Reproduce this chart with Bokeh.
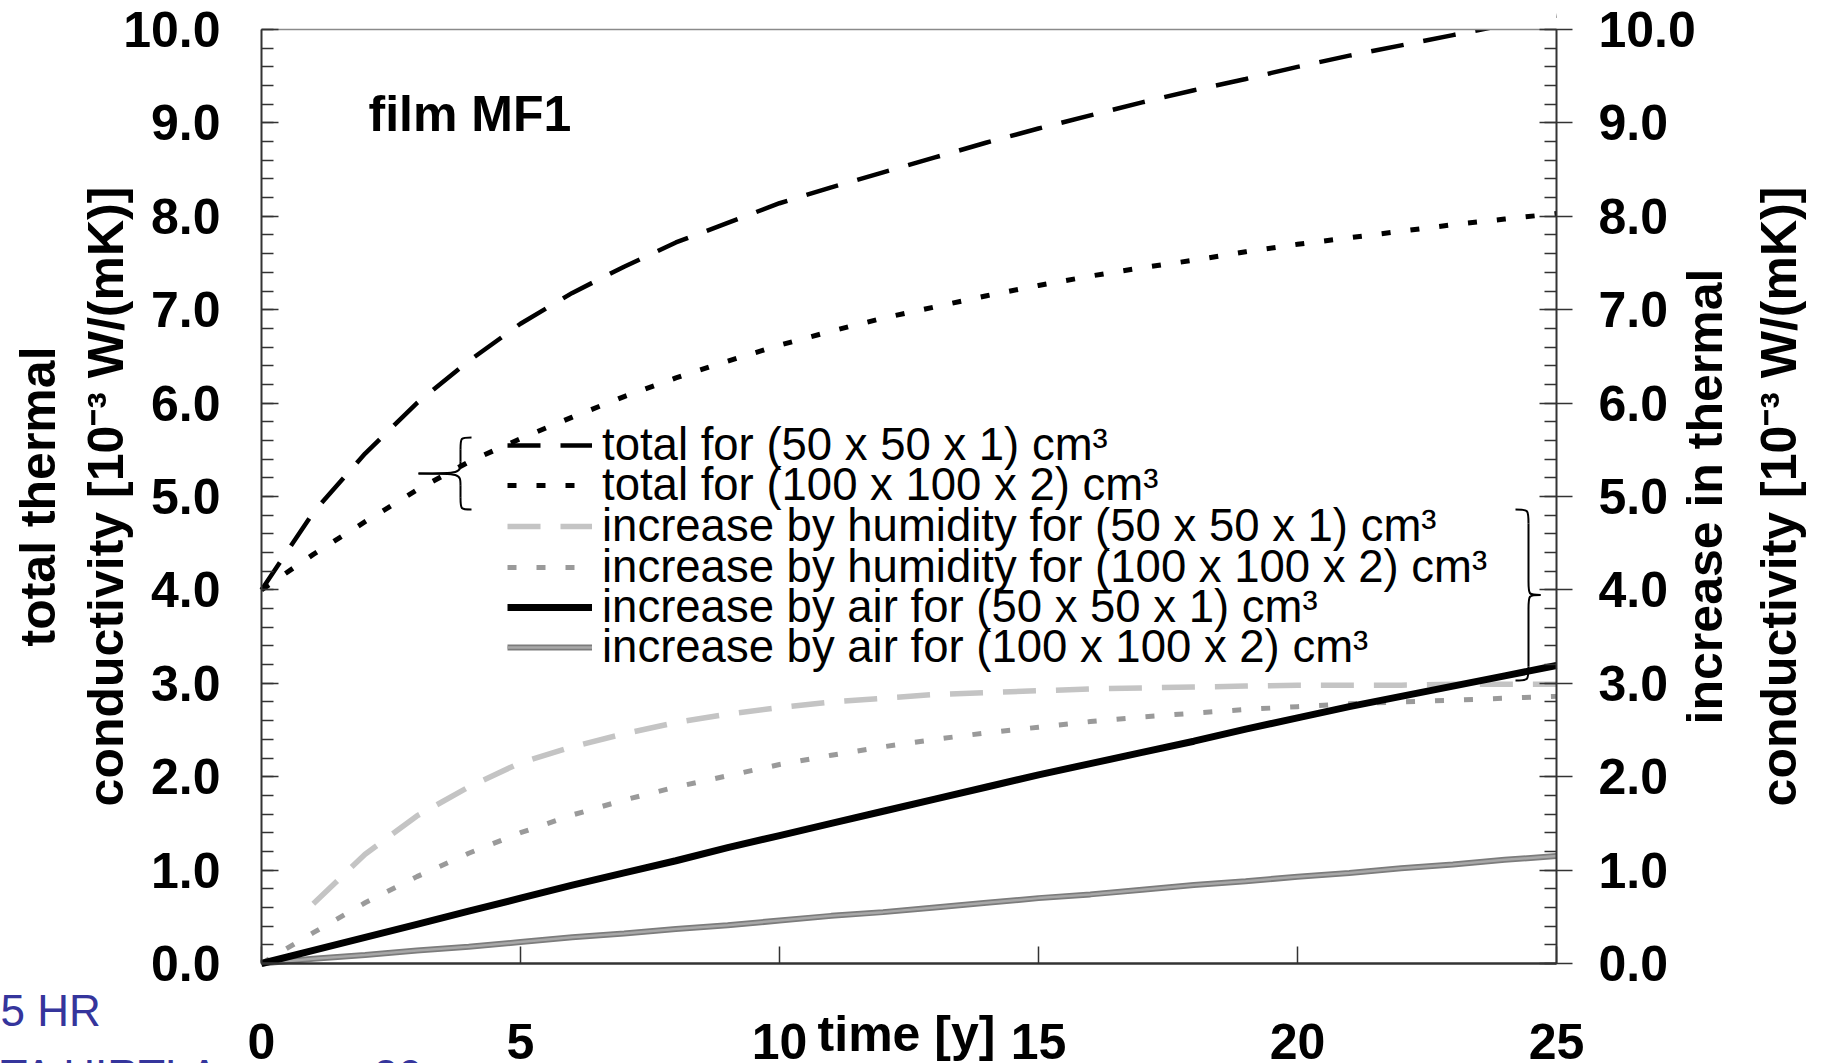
import math
from bokeh.plotting import figure
from bokeh.models import (Range1d, LinearAxis, FixedTicker, PrintfTickFormatter,
                          Legend, LegendItem, Label, ColumnDataSource, BoxAnnotation)
from bokeh.embed import file_html
from bokeh.resources import INLINE

# ---------------- data ----------------
years = list(range(0, 26))
years_from1 = list(range(1, 26))

total_50 = [4.00, 4.83, 5.46, 6.00, 6.45, 6.85, 7.18, 7.46, 7.72, 7.93, 8.14, 8.31, 8.47,
            8.63, 8.79, 8.94, 9.08, 9.22, 9.35, 9.47, 9.60, 9.72, 9.83, 9.94, 10.05, 10.15]
total_100 = [4.00, 4.38, 4.73, 5.07, 5.37, 5.62, 5.85, 6.07, 6.27, 6.45, 6.62, 6.77, 6.91,
             7.03, 7.15, 7.26, 7.36, 7.45, 7.53, 7.62, 7.70, 7.77, 7.84, 7.91, 7.97, 8.03]
humidity_50 = [0.64, 1.17, 1.58, 1.89, 2.15, 2.32, 2.46, 2.58, 2.67, 2.74, 2.80, 2.84, 2.88,
               2.90, 2.92, 2.94, 2.95, 2.96, 2.97, 2.98, 2.98, 2.98, 2.99, 2.99, 2.99]
humidity_100 = [0.00, 0.33, 0.65, 0.93, 1.18, 1.40, 1.59, 1.75, 1.89, 2.01, 2.13, 2.23, 2.32,
                2.40, 2.47, 2.53, 2.59, 2.64, 2.68, 2.72, 2.75, 2.78, 2.80, 2.82, 2.84, 2.86]
air_50 = [0.00, 0.14, 0.28, 0.42, 0.56, 0.70, 0.84, 0.97, 1.10, 1.24, 1.37, 1.50, 1.63,
          1.76, 1.89, 2.02, 2.14, 2.26, 2.38, 2.51, 2.63, 2.75, 2.86, 2.97, 3.08, 3.19]
air_100 = [0.00, 0.05, 0.09, 0.14, 0.18, 0.23, 0.28, 0.32, 0.37, 0.41, 0.46, 0.51, 0.55,
           0.60, 0.65, 0.70, 0.74, 0.79, 0.84, 0.88, 0.93, 0.97, 1.02, 1.06, 1.11, 1.15]

x_ticks = [0, 5, 10, 15, 20, 25]
y_ticks = [0, 1, 2, 3, 4, 5, 6, 7, 8, 9, 10]
x_lim = (0, 25)
y_lim = (0, 10)

legend_labels = [
    "total for (50 x 50 x 1) cm³",
    "total for (100 x 100 x 2) cm³",
    "increase by humidity for (50 x 50 x 1) cm³",
    "increase by humidity for (100 x 100 x 2) cm³",
    "increase by air for (50 x 50 x 1) cm³",
    "increase by air for (100 x 100 x 2) cm³",
]
x_title = "time [y]"
y_title_left = ["total thermal", "conductivity [10⁻³ W/(mK)]"]
y_title_right = ["increase in thermal", "conductivity [10⁻³ W/(mK)]"]
panel_title = "film MF1"
stray_texts = ["5 HR", "TA HIRTLA", "20"]

# ---------------- layout (pixels) ----------------
W, H = 1827, 1063
PL, PR, PT, PB = 261, 1556, 29, 963           # plot-box edges on the canvas
FONT = "Liberation Sans"

kx = (PR - PL) / (x_lim[1] - x_lim[0])       # pixels per year
ky = (PB - PT) / (y_lim[1] - y_lim[0])       # pixels per unit


def tx(px):   # canvas pixel -> x data
    return x_lim[0] + (px - PL) / kx


def ty(py):   # canvas pixel -> y data
    return y_lim[0] + (PB - py) / ky


p = figure(width=W, height=H, x_range=Range1d(tx(0), tx(W)), y_range=Range1d(ty(H), ty(0)),
           output_backend="svg", toolbar_location=None, min_border=0)
p.title.visible = False
p.xgrid.visible = False
p.ygrid.visible = False
p.outline_line_color = None
p.background_fill_color = "white"
p.border_fill_color = "white"


def style_axis(a):
    a.axis_line_color = "#333333"
    a.major_tick_line_color = "#333333"
    a.minor_tick_line_color = "#333333"
    a.major_tick_line_width = 1.5
    a.minor_tick_line_width = 1.5
    a.major_label_text_font = FONT
    a.major_label_text_font_style = "bold"
    a.major_label_text_font_size = "50px"
    a.major_label_text_color = "black"
    a.level = "overlay"


# ---------------- axes (drawn at fixed data positions) ----------------
xa = p.xaxis[0]
style_axis(xa)
xa.fixed_location = y_lim[0]
xa.bounds = x_lim
xa.ticker = FixedTicker(ticks=x_ticks, minor_ticks=[])
xa.major_tick_in = 17
xa.major_tick_out = 0
xa.minor_tick_line_color = None
xa.major_label_standoff = 60
xa.axis_line_width = 2.5

yminor = [i * 0.2 for i in range(51)]
ya = p.yaxis[0]
style_axis(ya)
ya.fixed_location = x_lim[0]
ya.bounds = y_lim
ya.ticker = FixedTicker(ticks=y_ticks, minor_ticks=yminor)
ya.formatter = PrintfTickFormatter(format="%.1f")
ya.major_tick_in = 17
ya.major_tick_out = 0
ya.minor_tick_in = 12
ya.minor_tick_out = 0
ya.major_label_standoff = 41
ya.axis_line_width = 2

ra = LinearAxis(ticker=FixedTicker(ticks=y_ticks, minor_ticks=yminor),
                formatter=PrintfTickFormatter(format="%.1f"))
style_axis(ra)
ra.fixed_location = x_lim[1]
ra.bounds = y_lim
ra.major_tick_in = 17
ra.major_tick_out = 16
ra.minor_tick_in = 12
ra.minor_tick_out = 0
ra.major_label_standoff = 26
ra.axis_line_width = 2
p.add_layout(ra, "right")

# top border of the plot box
ta = LinearAxis(ticker=FixedTicker(ticks=[]), fixed_location=y_lim[1], bounds=x_lim)
ta.axis_line_color = "#8a8a8a"
ta.axis_line_width = 1.5
ta.major_tick_line_color = None
ta.minor_tick_line_color = None
ta.major_label_text_alpha = 0
ta.level = "overlay"
p.add_layout(ta, "above")

# ---------------- series ----------------
src = ColumnDataSource(dict(t=years, total_50=total_50, total_100=total_100,
                            humidity_100=humidity_100, air_50=air_50, air_100=air_100))
src_h = ColumnDataSource(dict(t=years_from1, humidity_50=humidity_50))

r_hum50 = p.line("t", "humidity_50", source=src_h, line_color="#c4c4c4", line_width=5.5,
                 line_dash="33 20")
r_hum100 = p.line("t", "humidity_100", source=src, line_color="#9a9a9a", line_width=5,
                  line_dash="9 20")
r_air100a = p.line("t", "air_100", source=src, line_color="#7c7c7c", line_width=6)
r_air100b = p.line("t", "air_100", source=src, line_color="#a8a8a8", line_width=2.5)
r_air50 = p.line("t", "air_50", source=src, line_color="black", line_width=7)
r_tot100 = p.line("t", "total_100", source=src, line_color="black", line_width=5,
                  line_dash="9 20")
r_tot50 = p.line("t", "total_50", source=src, line_color="black", line_width=4.5,
                 line_dash="33 20")

# keep curves inside the plot box (the box top is the top of the y range)
p.add_layout(BoxAnnotation(bottom=y_lim[1], left=x_lim[0], right=x_lim[1],
                           fill_color="white", fill_alpha=1.0, line_color=None))

# ---------------- legend: one row per entry ----------------
row_renderers = [[r_tot50], [r_tot100], [r_hum50], [r_hum100], [r_air50], [r_air100a, r_air100b]]
ROW0, PITCH, ROWH = 446, 40.5, 50
for i, (lbl, rs) in enumerate(zip(legend_labels, row_renderers)):
    centre = ROW0 + i * PITCH
    lg = Legend(items=[LegendItem(label=lbl, renderers=rs)],
                location=(507, round(H - centre - ROWH / 2)),
                label_text_font=FONT, label_text_font_size="45.5px", label_text_color="black",
                glyph_width=85, glyph_height=ROWH, label_height=ROWH, spacing=0,
                padding=0, margin=0, border_line_color=None, background_fill_alpha=0,
                label_standoff=10)
    p.add_layout(lg)

# ---------------- braces grouping the legend entries ----------------
def brace(spine, tip, hook, top, bot, r):
    mid = (top + bot) / 2
    bx = dict(x0=[hook, spine, tip, spine], y0=[top, mid + r, mid, bot + r],
              x1=[spine, tip, spine, hook], y1=[top - r, mid, mid - r, bot],
              cx0=[spine, spine, spine, spine], cy0=[top, mid, mid, bot],
              cx1=[spine, spine, spine, spine], cy1=[top, mid, mid, bot])
    p.bezier(x0="x0", y0="y0", x1="x1", y1="y1", cx0="cx0", cy0="cy0", cx1="cx1", cy1="cy1",
             source=ColumnDataSource(bx), line_color="black", line_width=2)
    p.segment(x0=[spine, spine], y0=[top - r, mid - r], x1=[spine, spine], y1=[mid + r, bot + r],
              line_color="black", line_width=2)

brace(tx(460), tx(418), tx(471), ty(437), ty(509), 0.13)
brace(tx(1528), tx(1540), tx(1515), ty(509), ty(680), 0.15)

# ---------------- texts (anchored at the middle of the text line) ----------------
def lab(px, py, text, size, bold=True, angle=0.0, align="center", color="black"):
    p.add_layout(Label(x=tx(px), y=ty(py), text=text, angle=angle, text_font=FONT,
                       text_font_style="bold" if bold else "normal", text_font_size=size,
                       text_align=align, text_baseline="middle", text_color=color))

mid_y = (PT + PB) / 2
lab(368, 113, panel_title, "50px", align="left")
lab(906, 1033, x_title, "50px")
lab(37, mid_y, y_title_left[0], "50px", angle=math.pi / 2)
lab(105, mid_y, y_title_left[1], "50px", angle=math.pi / 2)
lab(1704, mid_y, y_title_right[0], "50px", angle=math.pi / 2)
lab(1778, mid_y, y_title_right[1], "50px", angle=math.pi / 2)
lab(0, 1010, stray_texts[0], "44px", bold=False, align="left", color="#35359c")
lab(0, 1075, stray_texts[1], "44px", bold=False, align="left", color="#35359c")
lab(373, 1075, stray_texts[2], "44px", bold=False, align="left", color="#35359c")

open("out.html", "w").write(file_html(p, INLINE))
